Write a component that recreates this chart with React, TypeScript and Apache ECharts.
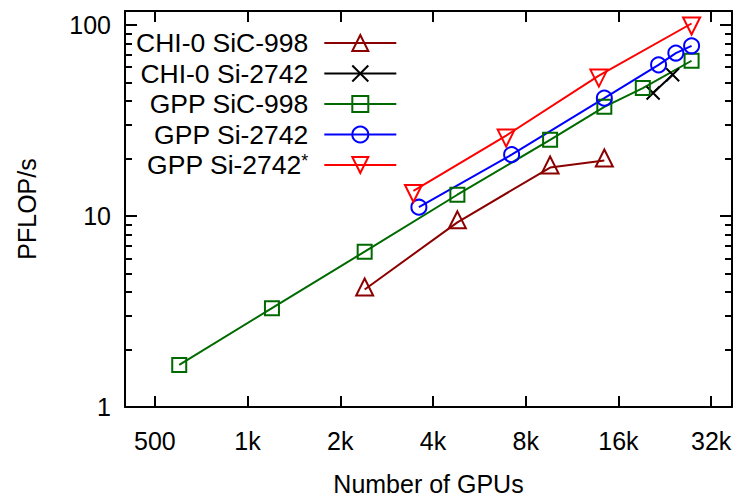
import { useEffect, useRef } from "react";
import * as echarts from "echarts";

// Axis ticks
const xTickValues = [500, 1000, 2000, 4000, 8000, 16000, 32000];
const yMajorValues = [1, 10, 100];
const yMinorValues = [2, 3, 4, 5, 6, 7, 8, 9, 20, 30, 40, 50, 60, 70, 80, 90];

// Series: number of GPUs and sustained PFLOP/s
const chiSicGpus = [2400, 4800, 9600, 14400];
const chiSicPflops = [4.12, 9.25, 17.9, 19.5];

const chiSiGpus = [20736, 24000];
const chiSiPflops = [43.9, 54.7];

const gppSicGpus = [600, 1200, 2400, 4800, 9600, 14400, 19200, 27648];
const gppSicPflops = [1.66, 3.29, 6.5, 12.9, 25.0, 37.2, 46.6, 64.8];

const gppSiGpus = [3600, 7200, 14400, 21600, 24576, 27648];
const gppSiPflops = [11.1, 20.9, 41.3, 61.7, 71.1, 77.6];

const gppSiOptGpus = [3456, 6912, 13824, 27648];
const gppSiOptPflops = [13.5, 26.3, 54.2, 101.5];

const FONT = "'Liberation Sans', Arial, sans-serif";
const FS = 25;
const LEGEND_FS = 26.5;
const X_MIN = 400;
const X_MAX = 37400;
const Y_MIN = 1;
const Y_MAX = 118;

const pair = (xs: number[], ys: number[]) => xs.map((x, i) => [x, ys[i]]);

const fmtGpus = (v: number) => (v >= 1000 ? `${Math.round(v / 1000)}k` : `${v}`);

function lineSeries(
  name: string,
  color: string,
  data: number[][],
  symbol: string,
  symbolSize: number,
  extra: Record<string, unknown> = {}
) {
  return {
    name,
    type: "line",
    data,
    symbol,
    symbolSize,
    showSymbol: true,
    xAxisIndex: 0,
    yAxisIndex: 0,
    lineStyle: { color, width: 2 },
    itemStyle: { color: "rgba(0,0,0,0)", borderColor: color, borderWidth: 2 },
    emphasis: { disabled: true },
    z: 3,
    ...extra,
  };
}

export default function App() {
  const ref = useRef<HTMLDivElement>(null);

  useEffect(() => {
    if (!ref.current) return;
    const chart = echarts.init(ref.current, undefined, { renderer: "svg" });

    const axisLine = { show: true, lineStyle: { color: "#000", width: 2 } };

    const xBase = {
      type: "log",
      logBase: 2,
      min: X_MIN,
      max: X_MAX,
      axisLine,
      splitLine: { show: false },
      axisTick: {
        show: true,
        inside: true,
        length: 11,
        customValues: xTickValues,
        lineStyle: { color: "#000", width: 2 },
      },
    };

    const yBase = {
      type: "log",
      logBase: 10,
      min: Y_MIN,
      max: Y_MAX,
      axisLine,
      splitLine: { show: false },
    };

    const yMajorTick = {
      show: true,
      inside: true,
      length: 12,
      customValues: yMajorValues,
      lineStyle: { color: "#000", width: 2 },
    };
    const yMinorTick = {
      show: true,
      inside: true,
      length: 7,
      customValues: yMinorValues,
      lineStyle: { color: "#000", width: 2 },
    };

    chart.setOption({
      animation: false,
      backgroundColor: "#fff",
      textStyle: { fontFamily: FONT },
      grid: {
        left: 125,
        right: 4,
        top: 11,
        bottom: 89,
        containLabel: false,
        outerBoundsMode: "none",
      },
      legend: {
        orient: "vertical",
        align: "right",
        left: 136,
        top: 29.5,
        padding: 0,
        itemWidth: 72,
        itemHeight: 20,
        itemGap: 3.5,
        selectedMode: false,
        data: [
          "CHI-0 SiC-998",
          "CHI-0 Si-2742",
          "GPP SiC-998",
          "GPP Si-2742",
          "GPP Si-2742*",
        ],
        formatter: (name: string) =>
          name.endsWith("*") ? `${name.slice(0, -1)}{sup|*}` : name,
        textStyle: {
          fontFamily: FONT,
          fontSize: LEGEND_FS,
          color: "#000",
          padding: [0, 11, 0, 0],
          rich: {
            sup: { fontFamily: FONT, fontSize: 18, color: "#000", padding: [0, 0, 9, 0] },
          },
        },
      },
      xAxis: [
        {
          ...xBase,
          position: "bottom",
          name: "Number of GPUs",
          nameLocation: "middle",
          nameGap: 64,
          nameTextStyle: { fontFamily: FONT, fontSize: FS, color: "#000" },
          axisLabel: {
            show: true,
            customValues: xTickValues,
            formatter: (v: number) => fmtGpus(v),
            margin: 21,
            fontFamily: FONT,
            fontSize: FS,
            color: "#000",
          },
        },
        {
          ...xBase,
          position: "top",
          axisLabel: { show: false },
        },
      ],
      yAxis: [
        {
          ...yBase,
          position: "left",
          name: "PFLOP/s",
          nameLocation: "middle",
          nameGap: 86,
          nameTextStyle: { fontFamily: FONT, fontSize: FS, color: "#000" },
          axisTick: yMajorTick,
          axisLabel: {
            show: true,
            customValues: yMajorValues,
            formatter: (v: number) => `${v}`,
            margin: 14,
            fontFamily: FONT,
            fontSize: FS,
            color: "#000",
          },
        },
        {
          ...yBase,
          position: "left",
          axisLine: { show: false },
          axisTick: yMinorTick,
          axisLabel: { show: false },
        },
        {
          ...yBase,
          position: "right",
          axisTick: yMajorTick,
          axisLabel: { show: false },
        },
        {
          ...yBase,
          position: "right",
          axisLine: { show: false },
          axisTick: yMinorTick,
          axisLabel: { show: false },
        },
      ],
      series: [
        lineSeries("CHI-0 SiC-998", "#8b0000", pair(chiSicGpus, chiSicPflops), "triangle", 17, {
          symbolOffset: [0, -2.5],
        }),
        lineSeries(
          "CHI-0 Si-2742",
          "#000000",
          pair(chiSiGpus, chiSiPflops),
          "path://M0,0L10,10M10,0L0,10",
          13
        ),
        lineSeries("GPP SiC-998", "#006a00", pair(gppSicGpus, gppSicPflops), "rect", 14),
        lineSeries("GPP Si-2742", "#0000ff", pair(gppSiGpus, gppSiPflops), "circle", 15),
        lineSeries("GPP Si-2742*", "#ff0000", pair(gppSiOptGpus, gppSiOptPflops), "triangle", 17, {
          symbolRotate: 180,
          symbolOffset: [0, 2.5],
        }),
      ],
    });

    return () => chart.dispose();
  }, []);

  return (
    <div
      ref={ref}
      style={{ position: "fixed", left: 0, top: 0, width: 736, height: 496 }}
    />
  );
}
